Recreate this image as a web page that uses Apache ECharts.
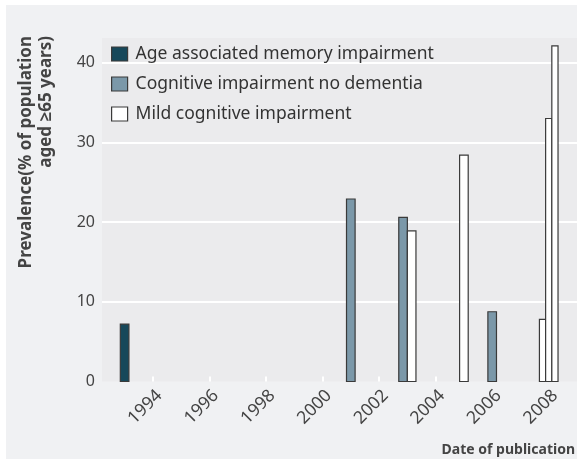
<!DOCTYPE html>
<html>
<head>
<meta charset="utf-8">
<script src="https://cdn.jsdelivr.net/npm/echarts@6/dist/echarts.min.js"></script>
<style>
html,body{margin:0;padding:0;background:#ffffff;}
#chart{width:577px;height:459px;}
</style>
</head>
<body>
<div id="chart"></div>
<script>
// ---- data ----
var seriesNames = ['Age associated memory impairment', 'Cognitive impairment no dementia', 'Mild cognitive impairment'];
var seriesColors = ['#17485a', '#7b98a9', '#ffffff'];
// one entry per bar: publication year, prevalence, series index
var barYears  = [1993, 2001, 2003, 2003, 2005, 2006, 2008, 2008, 2008];
var barValues = [7.2, 22.9, 20.6, 18.9, 28.4, 8.75, 7.8, 33.0, 42.1];
var barSeries = [0, 1, 1, 2, 2, 1, 2, 2, 2];
var xTickYears = [1994, 1996, 1998, 2000, 2002, 2004, 2006, 2008];
var yTickValues = [0, 10, 20, 30, 40];

var FONT = '"Noto Sans", "Open Sans", sans-serif';

// group bars per year for dodging
function groupInfo(idx) {
  var y = barYears[idx], n = 0, pos = 0;
  for (var i = 0; i < barYears.length; i++) {
    if (barYears[i] === y) { if (i < idx) pos++; n++; }
  }
  return {n: n, pos: pos};
}

function makeSeries(s) {
  var data = [];
  for (var i = 0; i < barYears.length; i++) {
    if (barSeries[i] === s) data.push([barYears[i], barValues[i], i]);
  }
  return {
    name: seriesNames[s],
    type: 'custom',
    itemStyle: {color: seriesColors[s], borderColor: '#3a3a3a', borderWidth: 1.2},
    encode: {x: 0, y: 1},
    data: data,
    renderItem: function (params, api) {
      var idx = api.value(2);
      var g = groupInfo(idx);
      var w = g.n >= 3 ? 6.2 : 8.6;
      var base = api.coord([api.value(0), 0]);
      var top = api.coord([api.value(0), api.value(1)]);
      var x = base[0] + (g.pos - (g.n - 1) / 2) * w - w / 2;
      return {
        type: 'rect',
        shape: {x: x, y: top[1], width: w, height: base[1] - top[1]},
        style: {fill: seriesColors[s], stroke: '#3a3a3a', lineWidth: 1.2}
      };
    }
  };
}

var chart = echarts.init(document.getElementById('chart'), null, {renderer: 'canvas'});
chart.setOption({
  animation: false,
  backgroundColor: '#ffffff',
  graphic: [
    {type: 'rect', z: -100, silent: true, shape: {x: 6, y: 5, width: 571, height: 454}, style: {fill: '#f0f1f3'}},
    {type: 'text', x: 26, y: 36, rotation: Math.PI / 2, style: {text: 'Prevalence(% of population', font: 'bold 17px ' + FONT, fill: '#444444', align: 'right', verticalAlign: 'middle'}},
    {type: 'text', x: 46, y: 36, rotation: Math.PI / 2, style: {text: 'aged ≥65 years)', font: 'bold 17px ' + FONT, fill: '#444444', align: 'right', verticalAlign: 'middle'}},
    {type: 'text', x: 575, y: 450, style: {text: 'Date of publication', font: 'bold 14px ' + FONT, fill: '#444444', align: 'right', verticalAlign: 'middle'}}
  ],
  grid: {left: 102, right: 0, top: 38, bottom: 77.5, show: true, backgroundColor: '#ebebed', borderWidth: 0},
  legend: {
    orient: 'vertical', left: 111, top: 45, padding: 0, itemWidth: 16, itemHeight: 14, itemGap: 12,
    icon: 'rect',
    textStyle: {fontFamily: FONT, fontSize: 17.5, color: '#333333', padding: [0, 0, 0, 3]},
    data: seriesNames.map(function (n, i) {
      return {name: n, itemStyle: {color: seriesColors[i], borderColor: '#3a3a3a', borderWidth: 1.2}};
    })
  },
  xAxis: {
    type: 'value', min: 1992.2, max: 2009.0,
    axisLine: {show: false},
    splitLine: {show: false},
    axisTick: {show: true, inside: true, length: 5, lineStyle: {color: '#ffffff', width: 2}, customValues: xTickYears},
    axisLabel: {rotate: 45, align: 'right', verticalAlign: 'top', fontFamily: FONT, fontSize: 17.5, color: '#444444', margin: 5,
      customValues: xTickYears, formatter: function (v) { return String(v); }}
  },
  yAxis: {
    type: 'value', min: 0, max: 43.1, interval: 10,
    axisLine: {show: false},
    axisTick: {show: false},
    splitLine: {show: true, showMinLine: false, showMaxLine: false, lineStyle: {color: '#ffffff', width: 2}},
    axisLabel: {fontFamily: FONT, fontSize: 16, color: '#444444', margin: 7, customValues: yTickValues}
  },
  series: [makeSeries(0), makeSeries(1), makeSeries(2)]
});
</script>
</body>
</html>
